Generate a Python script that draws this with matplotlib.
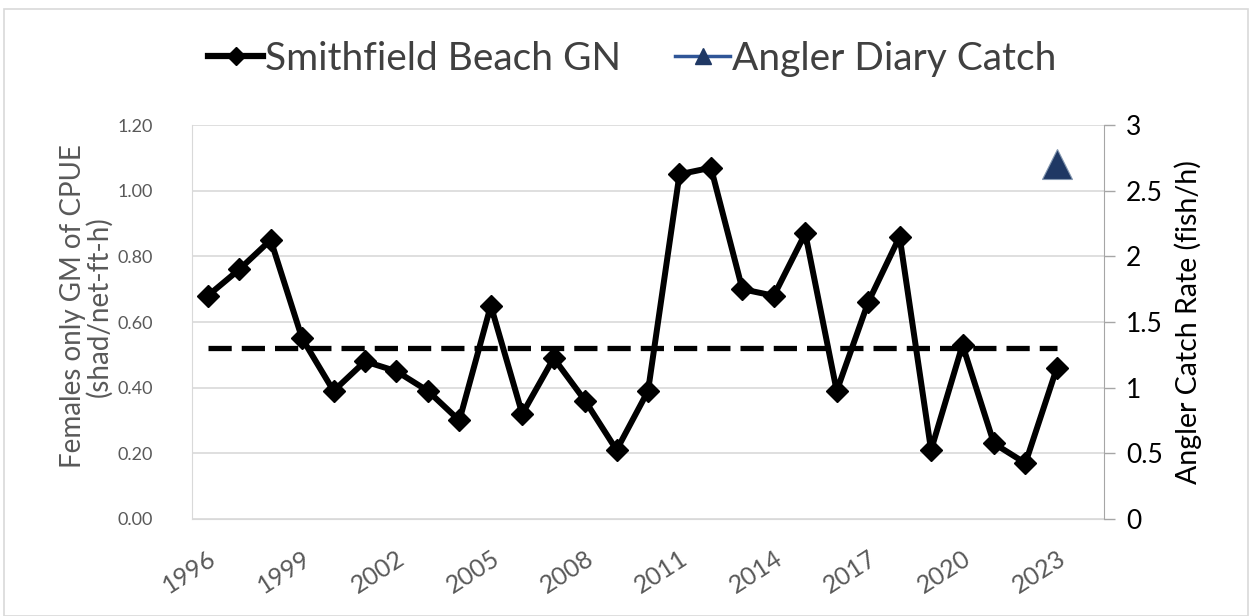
import matplotlib
matplotlib.use("Agg")
import matplotlib.pyplot as plt
from matplotlib.lines import Line2D
from matplotlib.patches import Rectangle

plt.rcParams['font.family'] = ['Lato', 'DejaVu Sans']

years = list(range(1996, 2024))
gn_cpue = [0.68, 0.76, 0.85, 0.55, 0.39, 0.48, 0.45, 0.39, 0.30, 0.65,
           0.32, 0.49, 0.36, 0.21, 0.39, 1.05, 1.07, 0.70, 0.68, 0.87,
           0.39, 0.66, 0.86, 0.21, 0.53, 0.23, 0.17, 0.46]
gn_mean = 0.52
diary_years = [2023]
diary_rate = [2.70]
tick_years = list(range(1996, 2024, 3))

grey_text = '#595959'

fig = plt.figure(figsize=(12.52, 6.16), dpi=100)
fig.patches.append(Rectangle((0.003, 0.0), 0.994, 0.985, transform=fig.transFigure,
                             fill=False, edgecolor='#D9D9D9', linewidth=1.2))
ax = fig.add_axes([0.1534, 0.1575, 0.7284, 0.6395])
ax2 = ax.twinx()

ax.plot(years, gn_cpue, color='black', lw=4.3, marker='D', ms=11.5, zorder=3)
ax.plot(years, [gn_mean] * len(years), color='black', lw=3.8,
        linestyle=(0, (4.4, 1.9)), zorder=2)
ax2.plot(diary_years, diary_rate, linestyle='none', marker='^', ms=21,
         color='#1F3864', markeredgecolor='#8497B0', markeredgewidth=0.8)

ax.set_xlim(1995.5, 2024.5)
ax.set_ylim(0, 1.2)
ax.set_yticks([0, 0.2, 0.4, 0.6, 0.8, 1.0, 1.2])
ax.set_yticklabels([f"{v:.2f}" for v in ax.get_yticks()])
ax.set_xticks(tick_years)
ax.set_xticklabels([str(y) for y in tick_years], rotation=33, ha='right',
                   rotation_mode='anchor', fontsize=18, color=grey_text)
ax.tick_params(axis='x', length=0, pad=20)
ax.tick_params(axis='y', length=0, pad=28, labelsize=13, labelcolor=grey_text)
ax.grid(axis='y', color='#D9D9D9', lw=1.2)
ax.set_axisbelow(True)
for s in ['top', 'right']:
    ax.spines[s].set_visible(False)
ax.spines['left'].set_color('#D9D9D9')
ax.spines['bottom'].set_color('#D9D9D9')
ax.set_ylabel("Females only GM of CPUE\n(shad/net-ft-h)", fontsize=20,
              color=grey_text, linespacing=1.0)
ax.yaxis.set_label_coords(-0.087, 0.54)

ax2.set_ylim(0, 3)
ax2.set_yticks([0, 0.5, 1, 1.5, 2, 2.5, 3])
ax2.set_yticklabels(['0', '0.5', '1', '1.5', '2', '2.5', '3'])
ax2.tick_params(axis='y', length=8, width=1, color='#A6A6A6', pad=8,
                labelsize=19, labelcolor='black')
for s in ['top', 'left', 'bottom']:
    ax2.spines[s].set_visible(False)
ax2.spines['right'].set_color('#A6A6A6')
ax2.set_ylabel("Angler Catch Rate (fish/h)", fontsize=20.5, color='black', labelpad=8)

handles = [
    Line2D([], [], color='black', lw=4.5, marker='D', ms=9),
    Line2D([], [], color='#2F5597', lw=2.5, marker='^', ms=11,
           markerfacecolor='#1F3864', markeredgecolor='#1F3864'),
]
fig.legend(handles, ['Smithfield Beach GN', 'Angler Diary Catch'], loc='center',
           bbox_to_anchor=(0.505, 0.905), ncol=2, frameon=False, fontsize=28,
           handlelength=1.4, handletextpad=0.05, columnspacing=1.4,
           labelcolor='#404040')

fig.savefig('out.png', dpi=100)
